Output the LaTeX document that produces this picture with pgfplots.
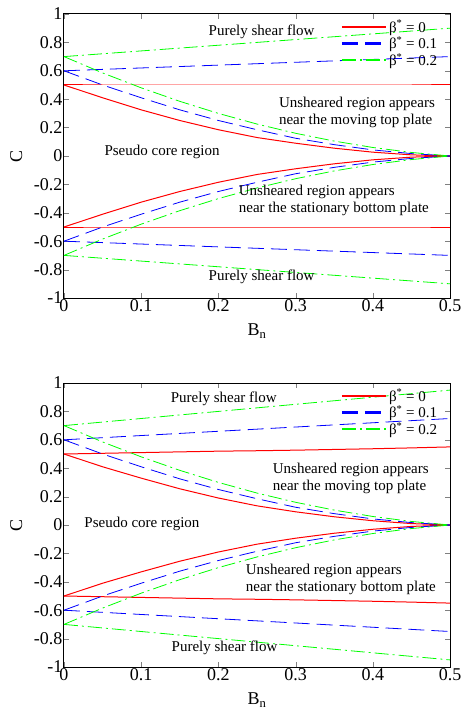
\documentclass[border=0pt]{standalone}
\usepackage{fontspec}
\setmainfont{Liberation Serif}
\usepackage{pgfplots}
\pgfplotsset{compat=1.18}
\usepackage{pgfplotstable}

% top panel
\pgfplotstableread{
x    ru    rl    bu    bl    gu    gl    nru    nrl    nbu    nbl    ngu    ngl
0    0.5   0.5   0.6   0.6   0.7   0.7   -0.5   -0.5   -0.6   -0.6   -0.7   -0.7
0.05 0.5   0.41  0.61  0.5   0.72  0.585 -0.5   -0.41  -0.61  -0.5   -0.72  -0.585
0.1  0.5   0.325 0.62  0.41  0.74  0.48  -0.5   -0.325 -0.62  -0.41  -0.74  -0.48
0.15 0.5   0.25  0.63  0.325 0.76  0.385 -0.5   -0.25  -0.63  -0.325 -0.76  -0.385
0.2  0.5   0.185 0.64  0.25  0.78  0.3   -0.5   -0.185 -0.64  -0.25  -0.78  -0.3
0.25 0.5   0.13  0.65  0.185 0.80  0.225 -0.5   -0.13  -0.65  -0.185 -0.80  -0.225
0.3  0.5   0.09  0.66  0.125 0.82  0.16  -0.5   -0.09  -0.66  -0.125 -0.82  -0.16
0.35 0.5   0.055 0.67  0.08  0.84  0.105 -0.5   -0.055 -0.67  -0.08  -0.84  -0.105
0.4  0.5   0.027 0.68  0.043 0.86  0.06  -0.5   -0.027 -0.68  -0.043 -0.86  -0.06
0.45 0.5   0.008 0.69  0.017 0.88  0.025 -0.5   -0.008 -0.69  -0.017 -0.88  -0.025
0.5  0.5   0     0.70  0     0.90  0     -0.5   0      -0.70  0      -0.90  0
}\toptab

% bottom panel
\pgfplotstableread{
x    ru    rl    bu    bl    gu    gl    nru    nrl    nbu    nbl    ngu    ngl
0    0.5   0.5   0.6   0.6   0.7   0.7   -0.5   -0.5   -0.6   -0.6   -0.7   -0.7
0.05 0.505 0.41  0.615 0.5   0.725 0.585 -0.505 -0.41  -0.615 -0.5   -0.725 -0.585
0.1  0.51  0.33  0.63  0.41  0.75  0.48  -0.51  -0.33  -0.63  -0.41  -0.75  -0.48
0.15 0.515 0.255 0.645 0.325 0.775 0.385 -0.515 -0.255 -0.645 -0.325 -0.775 -0.385
0.2  0.52  0.19  0.66  0.25  0.8   0.3   -0.52  -0.19  -0.66  -0.25  -0.8   -0.3
0.25 0.523 0.135 0.675 0.185 0.825 0.225 -0.523 -0.135 -0.675 -0.185 -0.825 -0.225
0.3  0.527 0.093 0.69  0.125 0.85  0.16  -0.527 -0.093 -0.69  -0.125 -0.85  -0.16
0.35 0.532 0.058 0.705 0.08  0.875 0.105 -0.532 -0.058 -0.705 -0.08  -0.875 -0.105
0.4  0.537 0.03  0.72  0.043 0.9   0.06  -0.537 -0.03  -0.72  -0.043 -0.9   -0.06
0.45 0.543 0.01  0.735 0.017 0.925 0.025 -0.543 -0.01  -0.735 -0.017 -0.925 -0.025
0.5  0.55  0     0.75  0     0.95  0     -0.55  0      -0.75  0      -0.95  0
}\bottab

\pgfplotsset{
  panel/.style={
    width=386pt, height=284pt, scale only axis,
    xmin=0, xmax=0.5, ymin=-1, ymax=1,
    xtick={0,0.1,0.2,0.3,0.4,0.5},
    ytick={-1,-0.8,-0.6,-0.4,-0.2,0,0.2,0.4,0.6,0.8,1},
    xtick pos=both, ytick pos=both, tick align=inside,
    major tick length=5pt,
    tick label style={font=\fontsize{18}{20}\selectfont, inner sep=1.5pt},
    /pgf/number format/assume math mode=true,
    xlabel={B\textsubscript{n}}, ylabel={C},
    label style={font=\fontsize{18}{20}\selectfont},
    xlabel style={at={(axis description cs:0.5,-0.132)}, anchor=base},
    ylabel style={at={(axis description cs:-0.124,0.5)}, anchor=center},
    axis line style={line width=1pt},
    legend style={at={(0.975,0.99)}, anchor=north east, draw=none, fill=none,
      font=\fontsize{15}{17}\selectfont, row sep=-1pt, inner sep=1pt},
    legend cell align=left,
    legend image code/.code={\draw[##1] (0pt,0pt) -- (44pt,0pt);},
  },
  redline/.style={red, line width=1pt},
  blueline/.style={blue, line width=0.8pt, dash pattern=on 16pt off 7pt},
  greenline/.style={green, line width=0.8pt, dash pattern=on 14pt off 4pt on 2pt off 4pt},
}

\newcommand{\curves}[1]{%
  \addlegendimage{red, line width=1.6pt}
  \addlegendentry{β\textsuperscript{*} = 0}
  \addlegendimage{blue, line width=2.5pt, dash pattern=on 16pt off 7pt}
  \addlegendentry{β\textsuperscript{*} = 0.1}
  \addlegendimage{green, line width=2.5pt, dash pattern=on 14pt off 4pt on 2pt off 4pt}
  \addlegendentry{β\textsuperscript{*} = 0.2}
  \addplot[redline, forget plot] table[x=x, y=ru] {#1};
  \addplot[redline, forget plot] table[x=x, y=rl] {#1};
  \addplot[redline, forget plot] table[x=x, y=nru] {#1};
  \addplot[redline, forget plot] table[x=x, y=nrl] {#1};
  \addplot[blueline, forget plot] table[x=x, y=bu] {#1};
  \addplot[blueline, forget plot] table[x=x, y=bl] {#1};
  \addplot[blueline, forget plot] table[x=x, y=nbu] {#1};
  \addplot[blueline, forget plot] table[x=x, y=nbl] {#1};
  \addplot[greenline, forget plot] table[x=x, y=gu] {#1};
  \addplot[greenline, forget plot] table[x=x, y=gl] {#1};
  \addplot[greenline, forget plot] table[x=x, y=ngu] {#1};
  \addplot[greenline, forget plot] table[x=x, y=ngl] {#1};
}

\begin{document}
\begin{tikzpicture}
\begin{axis}[panel, at={(0,0)}, anchor=north west]
  \curves{\toptab}
  \begin{scope}[every node/.style={font=\fontsize{15}{17}\selectfont}]
  \node at (axis cs:0.256,0.873) {Purely shear flow};
  \node[anchor=west, align=left] at (axis cs:0.274,0.31) {Unsheared region appears\\near the moving top plate};
  \node at (axis cs:0.127,0.028) {Pseudo core region};
  \node[anchor=west, align=left] at (axis cs:0.222,-0.31) {Unsheared region appears\\near the stationary bottom plate};
  \node at (axis cs:0.256,-0.852) {Purely shear flow};
  \end{scope}
\end{axis}
\begin{axis}[panel, at={(0,-369pt)}, anchor=north west]
  \curves{\bottab}
  \begin{scope}[every node/.style={font=\fontsize{15}{17}\selectfont}]
  \node at (axis cs:0.207,0.888) {Purely shear flow};
  \node[anchor=west, align=left] at (axis cs:0.266,0.33) {Unsheared region appears\\near the moving top plate};
  \node at (axis cs:0.101,0.005) {Pseudo core region};
  \node[anchor=west, align=left] at (axis cs:0.231,-0.38) {Unsheared region appears\\near the stationary bottom plate};
  \node at (axis cs:0.208,-0.867) {Purely shear flow};
  \end{scope}
\end{axis}
\pgfresetboundingbox
\path[use as bounding box] (-64pt,14pt) rectangle (398pt,-697pt);
\end{tikzpicture}
\end{document}
